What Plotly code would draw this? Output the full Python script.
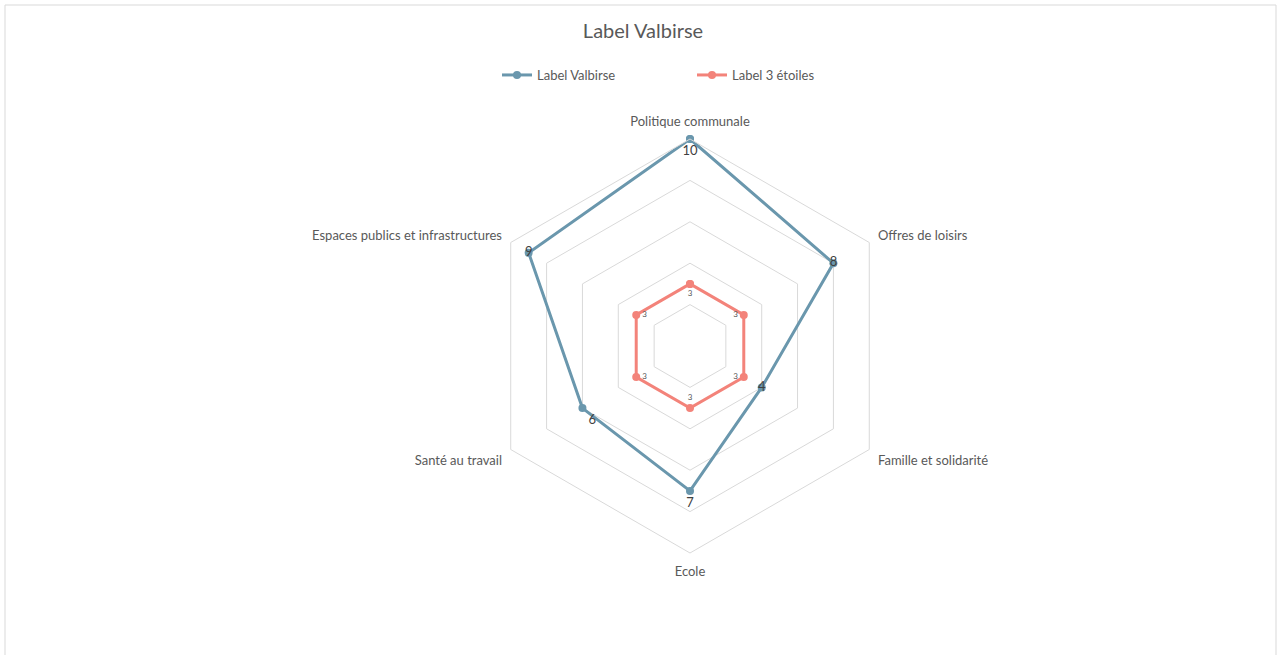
import plotly.graph_objects as go

categories = ["Politique communale", "Offres de loisirs", "Famille et solidarité",
              "Ecole", "Santé au travail", "Espaces publics et infrastructures"]
valbirse = [10, 8, 4, 7, 6, 9]
trois_etoiles = [3, 3, 3, 3, 3, 3]
radial_ticks = [0, 2, 4, 6, 8, 10]

W, H = 1281, 655
cx, cy, R = 690, 346, 207

blue = "#6a97ad"
red = "#f3837a"
txt = "#595959"
font_family = "Lato, 'Open Sans', sans-serif"

fig = go.Figure()

fig.add_trace(go.Scatterpolar(
    r=valbirse + valbirse[:1], theta=categories + categories[:1],
    mode="lines+markers+text", name="Label Valbirse",
    line=dict(color=blue, width=3), marker=dict(color=blue, size=8),
    text=[str(v) for v in valbirse] + [""],
    textposition=["bottom center", "middle center", "middle center",
                  "bottom center", "bottom right", "middle center", "middle center"],
    textfont=dict(size=13, color="#404040", family=font_family),
    cliponaxis=False,
))

fig.add_trace(go.Scatterpolar(
    r=trois_etoiles + trois_etoiles[:1], theta=categories + categories[:1],
    mode="lines+markers+text", name="Label 3 étoiles",
    line=dict(color=red, width=3), marker=dict(color=red, size=8),
    text=[str(v) for v in trois_etoiles] + [""],
    textposition=["bottom center", "middle left", "middle left",
                  "top center", "middle right", "middle right", "middle center"],
    textfont=dict(size=8, color=txt, family=font_family),
    cliponaxis=False,
))

fig.update_layout(
    width=W, height=H,
    margin=dict(l=0, r=0, t=0, b=0),
    paper_bgcolor="white", plot_bgcolor="white",
    font=dict(family=font_family, color=txt),
    title=dict(text="Label Valbirse", x=643 / W, xanchor="center",
               y=1 - 31 / H, yanchor="middle",
               font=dict(size=20, color=txt, family=font_family)),
    legend=dict(orientation="h", x=497 / W, xanchor="left", y=1 - 75 / H, yanchor="middle",
                font=dict(size=13, color=txt, family=font_family),
                entrywidth=150, itemwidth=30, bgcolor="rgba(0,0,0,0)"),
    polar=dict(
        domain=dict(x=[(cx - R) / W, (cx + R) / W], y=[1 - (cy + R) / H, 1 - (cy - R) / H]),
        gridshape="linear",
        bgcolor="white",
        radialaxis=dict(range=[0, 10], tickvals=radial_ticks, showticklabels=False,
                        ticks="", showline=False, gridcolor="#d9d9d9", gridwidth=1),
        angularaxis=dict(rotation=90, direction="clockwise", showgrid=False,
                         showline=True, linecolor="#d9d9d9", linewidth=1,
                         ticks="outside", ticklen=7, tickcolor="rgba(0,0,0,0)",
                         tickfont=dict(size=13, color=txt, family=font_family)),
    ),
    shapes=[dict(type="rect", xref="paper", yref="paper",
                 x0=5 / W, x1=1276 / W, y0=-0.02, y1=1 - 5 / H,
                 line=dict(color="#d9d9d9", width=1), fillcolor="rgba(0,0,0,0)", layer="below")],
)

fig.write_html("out.html", config={"displayModeBar": False},
               post_script="document.body.style.margin='0';")
